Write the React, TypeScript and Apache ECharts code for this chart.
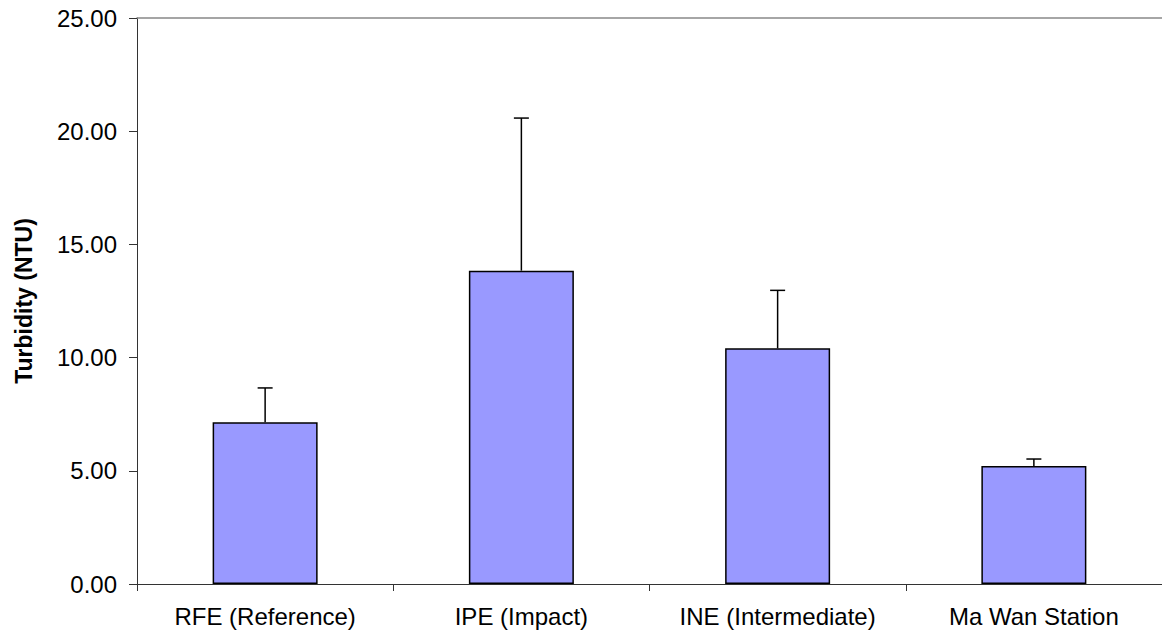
import React, { useEffect, useRef } from "react";
import * as echarts from "echarts";

const categories = ["RFE (Reference)", "IPE (Impact)", "INE (Intermediate)", "Ma Wan Station"];
const means = [7.14, 13.84, 10.41, 5.21];
const upper = [8.66, 20.58, 12.97, 5.52];
const yTicks = [0, 5, 10, 15, 20, 25];

export default function App() {
  const ref = useRef<HTMLDivElement>(null);
  useEffect(() => {
    if (!ref.current) return;
    const chart = echarts.init(ref.current, null, { renderer: "svg" });
    const font = "Liberation Sans, Arial, Helvetica, sans-serif";
    chart.setOption({
      animation: false,
      backgroundColor: "#ffffff",
      grid: { left: 137, right: -7, top: 18, bottom: 50, containLabel: false },
      xAxis: [
        {
          type: "category",
          data: categories,
          axisLine: { lineStyle: { color: "#333333", width: 1 } },
          axisTick: { show: true, length: 7, lineStyle: { color: "#333333" }, alignWithLabel: false },
          axisLabel: { color: "#000000", fontSize: 24, fontFamily: font, margin: 20 },
          splitLine: { show: false },
        },
        {
          type: "category",
          data: categories,
          position: "top",
          axisLine: { show: true, lineStyle: { color: "#888888", width: 1.5 } },
          axisTick: { show: false },
          axisLabel: { show: false },
        },
      ],
      yAxis: {
        type: "value",
        min: 0,
        max: 25,
        interval: 5,
        name: "Turbidity (NTU)",
        nameLocation: "middle",
        nameGap: 102,
        nameTextStyle: { color: "#000000", fontSize: 23, fontWeight: "bold", fontFamily: font },
        axisLine: { show: true, lineStyle: { color: "#333333", width: 1 } },
        axisTick: { show: true, length: 8, lineStyle: { color: "#333333" } },
        axisLabel: {
          color: "#000000",
          fontSize: 24,
          fontFamily: font,
          margin: 20,
          formatter: (v: number) => (yTicks.includes(v) ? v.toFixed(2) : ""),
        },
        splitLine: { show: false },
      },
      series: [
        {
          type: "bar",
          data: means,
          barWidth: 105,
          itemStyle: { color: "#9999FF", borderColor: "#000000", borderWidth: 1.5 },
        },
        {
          type: "custom",
          data: means.map((m, i) => [i, m, upper[i]]),
          renderItem: (params: any, api: any) => {
            const i = api.value(0);
            const lo = api.coord([i, api.value(1)]);
            const hi = api.coord([i, api.value(2)]);
            const half = 7.5;
            return {
              type: "group",
              children: [
                {
                  type: "line",
                  shape: { x1: lo[0], y1: lo[1], x2: hi[0], y2: hi[1] },
                  style: { stroke: "#000000", lineWidth: 1.5 },
                },
                {
                  type: "line",
                  shape: { x1: hi[0] - half, y1: hi[1], x2: hi[0] + half, y2: hi[1] },
                  style: { stroke: "#000000", lineWidth: 1.5 },
                },
              ],
            };
          },
          z: 5,
        },
      ],
    });
    return () => chart.dispose();
  }, []);
  return (
    <div
      ref={ref}
      style={{ position: "fixed", left: 0, top: 0, width: 1162, height: 634 }}
    />
  );
}
